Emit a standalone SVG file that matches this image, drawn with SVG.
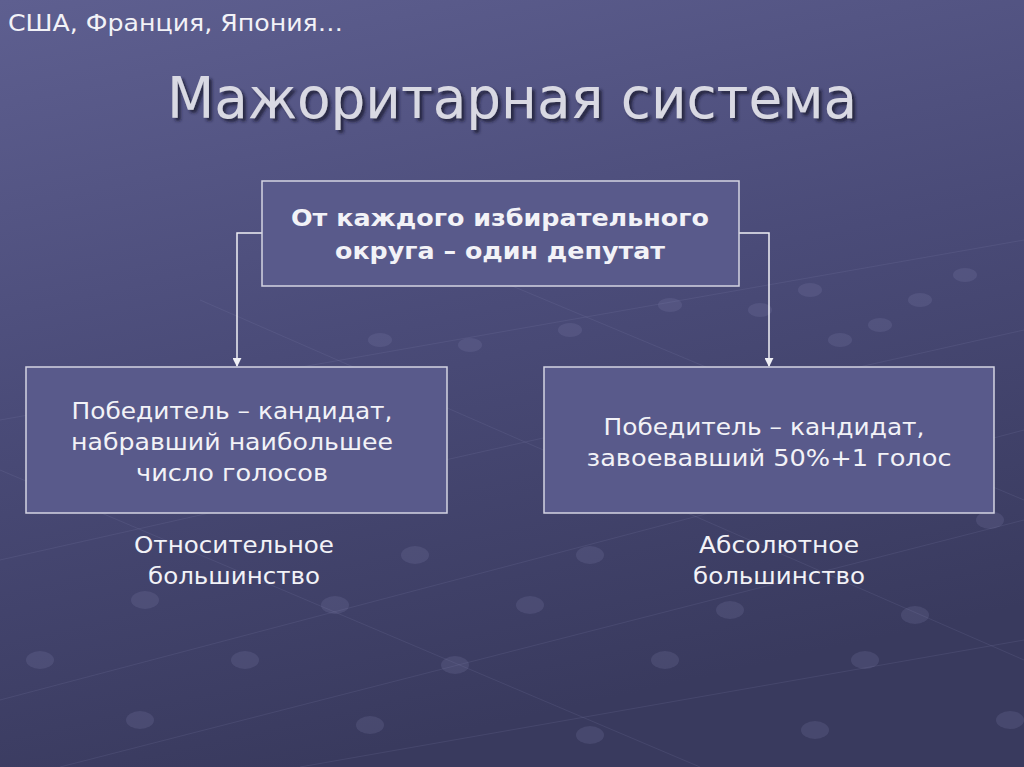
<svg xmlns="http://www.w3.org/2000/svg" width="1024" height="767" viewBox="0 0 1024 767">
<defs>
<linearGradient id="bg" x1="0" y1="0" x2="0.3" y2="1">
<stop offset="0" stop-color="#5e5f90"/>
<stop offset="0.5" stop-color="#4a4b78"/>
<stop offset="1" stop-color="#393a5e"/>
</linearGradient>
<filter id="sh" x="-5%" y="-20%" width="110%" height="140%">
<feDropShadow dx="3" dy="3" stdDeviation="1.5" flood-color="#1e1e33" flood-opacity="0.8"/>
</filter>
<marker id="arr" viewBox="0 0 10 10" refX="9" refY="5" markerWidth="9" markerHeight="9" markerUnits="userSpaceOnUse" orient="auto">
<path d="M0,0 L10,5 L0,10 z" fill="#f0f0f5"/>
</marker>
</defs>
<style>
.box{fill:#595a8b;stroke:#d4d4e2;stroke-width:1.5}
.t{font-family:"DejaVu Sans","Liberation Sans",sans-serif;fill:#f2f2f7;text-anchor:middle}
.b{font-weight:bold}
.conn{fill:none;stroke:#f0f0f5;stroke-width:1.5}
.dot{fill:#8a8bb5;opacity:0.18}
.ln{stroke:#8a8bb5;stroke-width:1;opacity:0.15}
</style>
<rect width="1024" height="767" fill="url(#bg)"/>
<g id="pattern">
<line class="ln" x1="0" y1="420" x2="1024" y2="240"/>
<line class="ln" x1="0" y1="560" x2="1024" y2="330"/>
<line class="ln" x1="0" y1="700" x2="1024" y2="430"/>
<line class="ln" x1="60" y1="767" x2="1024" y2="520"/>
<line class="ln" x1="300" y1="767" x2="1024" y2="640"/>
<line class="ln" x1="0" y1="470" x2="700" y2="767"/>
<line class="ln" x1="200" y1="300" x2="1024" y2="660"/>
<line class="ln" x1="450" y1="260" x2="1024" y2="500"/>
<ellipse class="dot" cx="40" cy="660" rx="14" ry="9"/>
<ellipse class="dot" cx="140" cy="720" rx="14" ry="9"/>
<ellipse class="dot" cx="245" cy="660" rx="14" ry="9"/>
<ellipse class="dot" cx="370" cy="725" rx="14" ry="9"/>
<ellipse class="dot" cx="455" cy="665" rx="14" ry="9"/>
<ellipse class="dot" cx="590" cy="735" rx="14" ry="9"/>
<ellipse class="dot" cx="665" cy="660" rx="14" ry="9"/>
<ellipse class="dot" cx="815" cy="730" rx="14" ry="9"/>
<ellipse class="dot" cx="865" cy="660" rx="14" ry="9"/>
<ellipse class="dot" cx="1010" cy="720" rx="14" ry="9"/>
<ellipse class="dot" cx="145" cy="600" rx="14" ry="9"/>
<ellipse class="dot" cx="335" cy="605" rx="14" ry="9"/>
<ellipse class="dot" cx="530" cy="605" rx="14" ry="9"/>
<ellipse class="dot" cx="730" cy="610" rx="14" ry="9"/>
<ellipse class="dot" cx="915" cy="615" rx="14" ry="9"/>
<ellipse class="dot" cx="965" cy="275" rx="12" ry="7"/>
<ellipse class="dot" cx="920" cy="300" rx="12" ry="7"/>
<ellipse class="dot" cx="880" cy="325" rx="12" ry="7"/>
<ellipse class="dot" cx="840" cy="340" rx="12" ry="7"/>
<ellipse class="dot" cx="810" cy="290" rx="12" ry="7"/>
<ellipse class="dot" cx="760" cy="310" rx="12" ry="7"/>
<ellipse class="dot" cx="670" cy="305" rx="12" ry="7"/>
<ellipse class="dot" cx="570" cy="330" rx="12" ry="7"/>
<ellipse class="dot" cx="470" cy="345" rx="12" ry="7"/>
<ellipse class="dot" cx="380" cy="340" rx="12" ry="7"/>
<ellipse class="dot" cx="990" cy="520" rx="14" ry="9"/>
<ellipse class="dot" cx="415" cy="555" rx="14" ry="9"/>
<ellipse class="dot" cx="590" cy="555" rx="14" ry="9"/>
</g>
<text class="t" x="8" y="31" font-size="23" style="text-anchor:start" textLength="335" lengthAdjust="spacingAndGlyphs">США, Франция, Япония…</text>
<text class="t" x="512" y="118" font-size="57" style="fill:#d9d9e3" filter="url(#sh)" textLength="690" lengthAdjust="spacingAndGlyphs">Мажоритарная система</text>
<g id="connectors">
<path class="conn" d="M262,233 H237 V366" marker-end="url(#arr)"/>
<path class="conn" d="M739,233 H769 V366" marker-end="url(#arr)"/>
</g>
<g id="node-top">
<rect class="box" x="262" y="181" width="477" height="105"/>
<text class="t b" x="500" y="226" font-size="23" textLength="418" lengthAdjust="spacingAndGlyphs">От каждого избирательного</text>
<text class="t b" x="500" y="259" font-size="23" textLength="330" lengthAdjust="spacingAndGlyphs">округа – один депутат</text>
</g>
<g id="node-left">
<rect class="box" x="26" y="367" width="421" height="146"/>
<text class="t" x="232" y="419" font-size="23" textLength="321" lengthAdjust="spacingAndGlyphs">Победитель – кандидат,</text>
<text class="t" x="232" y="450" font-size="23" textLength="322" lengthAdjust="spacingAndGlyphs">набравший наибольшее</text>
<text class="t" x="232" y="481" font-size="23" textLength="192" lengthAdjust="spacingAndGlyphs">число голосов</text>
</g>
<g id="node-right">
<rect class="box" x="544" y="367" width="450" height="146"/>
<text class="t" x="764" y="435" font-size="23" textLength="321" lengthAdjust="spacingAndGlyphs">Победитель – кандидат,</text>
<text class="t" x="769" y="466" font-size="23" textLength="365" lengthAdjust="spacingAndGlyphs">завоевавший 50%+1 голос</text>
</g>
<g id="label-left">
<text class="t" x="234" y="553" font-size="23" textLength="200" lengthAdjust="spacingAndGlyphs">Относительное</text>
<text class="t" x="234" y="584" font-size="23" textLength="172" lengthAdjust="spacingAndGlyphs">большинство</text>
</g>
<g id="label-right">
<text class="t" x="779" y="553" font-size="23" textLength="160" lengthAdjust="spacingAndGlyphs">Абсолютное</text>
<text class="t" x="779" y="584" font-size="23" textLength="172" lengthAdjust="spacingAndGlyphs">большинство</text>
</g>
</svg>
